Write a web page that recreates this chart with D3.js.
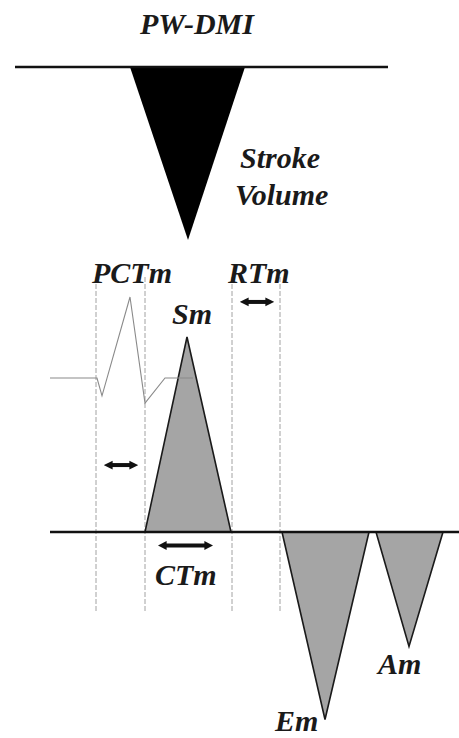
<!DOCTYPE html>
<html>
<head>
<meta charset="utf-8">
<script src="https://cdn.jsdelivr.net/npm/d3@7"></script>
<style>
  html, body { margin: 0; padding: 0; background: #fff; }
  svg { display: block; }
  text { font-family: "Liberation Serif", "DejaVu Serif", serif; font-weight: bold; font-style: italic; fill: #1a1a1a; }
</style>
</head>
<body>
<script>
// ---- data (time in ms, velocities in cm/s, flow in relative units, ECG in mV) ----
const flowBaseline = [-70, 676];                       // extent of the PW-DMI baseline
const strokeVolume = [[160, 0], [276, -1], [390, 0]];  // PW-DMI outflow wave
const tissueBaseline = [0, 818];
const smWave = [[190, 0], [274, 10.4], [362, 0]];
const emWave = [[464, 0], [550, -10.0], [638, 0]];
const amWave = [[652, 0], [718, -6.1], [786, 0]];
const ecgTrace = [[0, 0], [94, 0], [104, -0.22], [160, 1.0], [190, -0.31], [230, 0], [286, 0]];
const markerTimes = [92, 190, 364, 460];
const intervalArrows = [
  { name: "PCTm", t0: 108, t1: 176, v: 3.57 },
  { name: "RTm",  t0: 380, t1: 448, v: 12.27 },
  { name: "CTm",  t0: 216, t1: 326, v: -0.72 }
];
const labels = [
  { text: "PW-DMI", t: 294, panel: "flow", fv: 0.19, anchor: "middle" },
  { text: "Stroke", t: 380, panel: "flow", fv: -0.585, anchor: "start" },
  { text: "Volume", t: 370, panel: "flow", fv: -0.80, anchor: "start" },
  { text: "PCTm", t: 84,  panel: "vel", v: 13.3, anchor: "start" },
  { text: "RTm",  t: 356, panel: "vel", v: 13.3, anchor: "start" },
  { text: "Sm",   t: 244, panel: "vel", v: 11.1, anchor: "start" },
  { text: "CTm",  t: 210, panel: "vel", v: -2.8, anchor: "start" },
  { text: "Em",   t: 450, panel: "vel", v: -10.6, anchor: "start" },
  { text: "Am",   t: 656, panel: "vel", v: -7.55, anchor: "start" }
];

// ---- scales ----
const W = 459, H = 738;
const x = d3.scaleLinear().domain([-70, 818]).range([15, 459]);
const yFlow = d3.scaleLinear().domain([0, -1]).range([67, 240]);
const yVel = d3.scaleLinear().domain([0, 10]).range([532, 344.5]);
const yEcg = d3.scaleLinear().domain([0, 1]).range([378, 297]);

const svg = d3.select("body").append("svg").attr("width", W).attr("height", H);

const defs = svg.append("defs");
["s", "e"].forEach(k => {
  defs.append("marker")
    .attr("id", "ah-" + k)
    .attr("viewBox", "0 0 10 10")
    .attr("refX", 3).attr("refY", 5)
    .attr("markerWidth", 2.2).attr("markerHeight", 2.7)
    .attr("markerUnits", "strokeWidth")
    .attr("orient", "auto-start-reverse")
    .append("path").attr("d", "M0,0 L10,5 L0,10 Z").attr("fill", "#111");
});

const line = d3.line();

// dashed marker lines
svg.selectAll("line.marker").data(markerTimes).join("line")
  .attr("class", "marker")
  .attr("x1", d => x(d)).attr("x2", d => x(d))
  .attr("y1", yVel(13.6)).attr("y2", yVel(-4.3))
  .attr("stroke", "#8a8a8a").attr("stroke-width", 0.8)
  .attr("stroke-dasharray", "5,2");

// PW-DMI stroke volume wave
svg.append("path")
  .attr("d", line(strokeVolume.map(d => [x(d[0]), yFlow(d[1])])) + "Z")
  .attr("fill", "#000");

// PW-DMI baseline
svg.append("line")
  .attr("x1", x(flowBaseline[0])).attr("x2", x(flowBaseline[1]))
  .attr("y1", yFlow(0)).attr("y2", yFlow(0))
  .attr("stroke", "#111").attr("stroke-width", 2.6);

// tissue waves
[smWave, emWave, amWave].forEach(w => {
  svg.append("path")
    .attr("d", line(w.map(d => [x(d[0]), yVel(d[1])])) + "Z")
    .attr("fill", "#a5a5a5").attr("stroke", "#1a1a1a").attr("stroke-width", 1.6)
    .attr("stroke-linejoin", "miter");
});

// ECG trace (drawn over the Sm wave)
svg.append("path")
  .attr("d", line(ecgTrace.map(d => [x(d[0]), yEcg(d[1])])))
  .attr("fill", "none").attr("stroke", "#8a8a8a").attr("stroke-width", 1.1);

// tissue baseline
svg.append("line")
  .attr("x1", x(tissueBaseline[0])).attr("x2", x(tissueBaseline[1]))
  .attr("y1", yVel(0)).attr("y2", yVel(0))
  .attr("stroke", "#111").attr("stroke-width", 2.6);

// interval arrows
svg.selectAll("line.arrow").data(intervalArrows).join("line")
  .attr("class", "arrow")
  .attr("x1", d => x(d.t0) + 6).attr("x2", d => x(d.t1) - 6)
  .attr("y1", d => yVel(d.v)).attr("y2", d => yVel(d.v))
  .attr("stroke", "#111").attr("stroke-width", 4)
  .attr("marker-start", "url(#ah-s)").attr("marker-end", "url(#ah-e)");

// labels
svg.selectAll("text.lbl").data(labels).join("text")
  .attr("class", "lbl")
  .attr("x", d => x(d.t))
  .attr("y", d => d.panel === "flow" ? yFlow(d.fv) : yVel(d.v))
  .attr("text-anchor", d => d.anchor)
  .attr("font-size", 30)
  .text(d => d.text);
</script>
</body>
</html>
